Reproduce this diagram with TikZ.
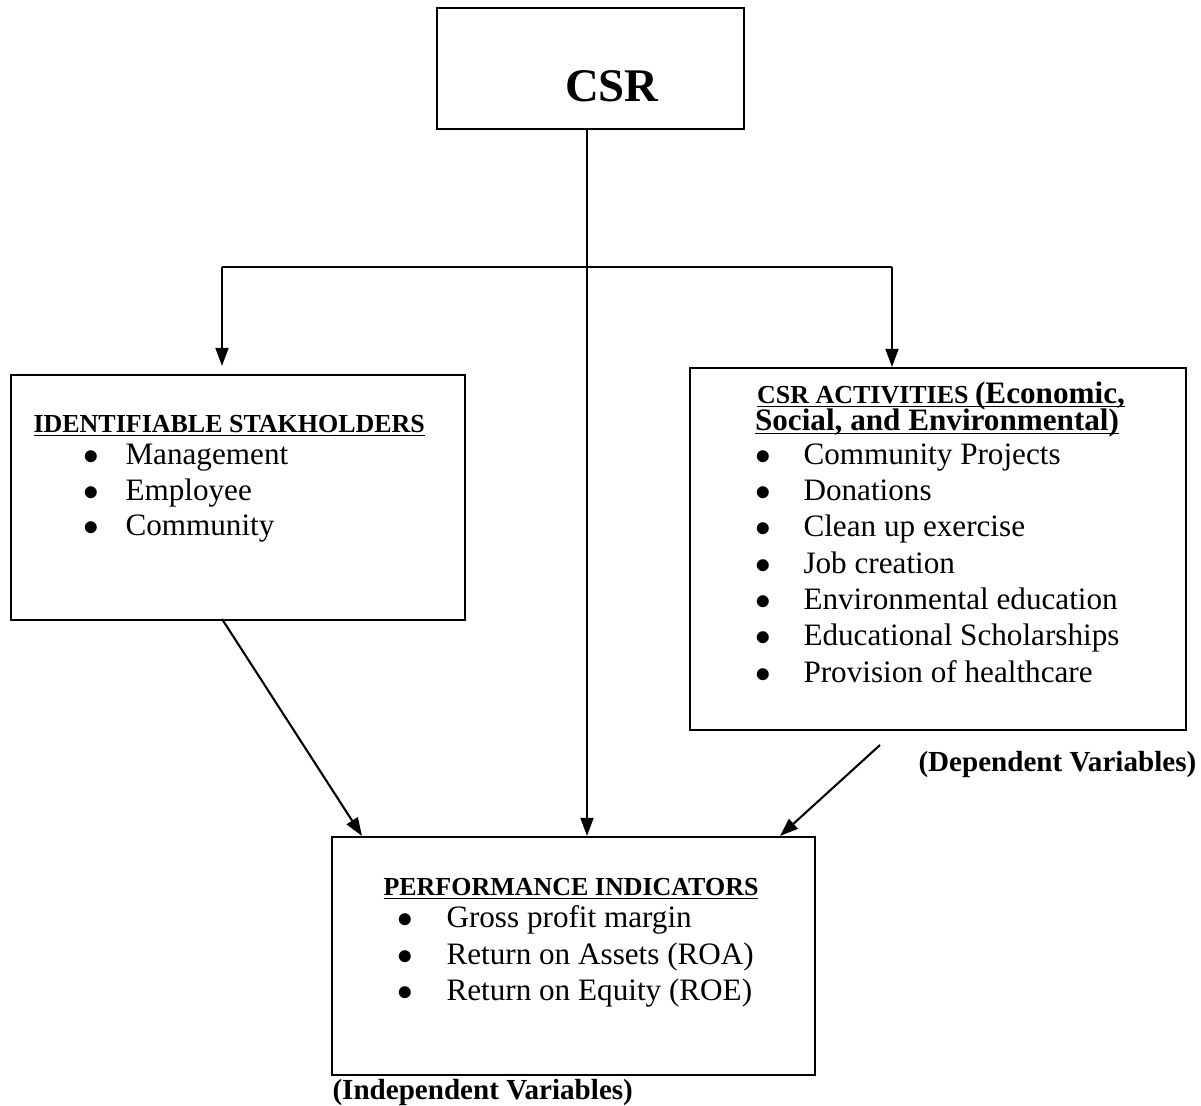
\documentclass[tikz,border=0pt]{standalone}
\usepackage{fontspec}
\setmainfont{Liberation Serif}
\usetikzlibrary{arrows.meta,positioning}

\newdimen\px
\px=0.385pt
\newsavebox{\ulbox}
\newcommand{\bul}[1]{\llap{$\bullet$\hspace{#1}}}
\newcommand{\uln}[1]{\sbox{\ulbox}{#1}\smash{\rlap{\rule[-1.6pt]{\wd\ulbox}{0.6pt}}}\usebox{\ulbox}}

\tikzset{
  box/.style={draw, line width=0.8pt, rectangle, inner sep=0pt},
  link/.style={line width=0.8pt},
  arr/.style={link, -{Triangle[width=5pt,length=7pt]}},
  head/.style={font=\fontsize{10}{12}\selectfont\bfseries, inner sep=0pt, text depth=0pt, anchor=base west},
  item/.style={font=\fontsize{12}{13.9}\selectfont, inner sep=0pt, anchor=base west},
  note/.style={font=\fontsize{11.2}{13}\selectfont\bfseries, inner sep=0pt, anchor=base west}
}

\begin{document}
\begin{tikzpicture}[x=0.385pt, y=-0.385pt]
  \useasboundingbox (0,0) rectangle (1201,1105);

  % boxes
  \node[box, minimum width=307\px, minimum height=121\px] (csr) at (590.5,68.5) {};
  \node[box, minimum width=454\px, minimum height=245\px] (stake) at (238,497.5) {};
  \node[box, minimum width=496\px, minimum height=362\px] (activ) at (938,549) {};
  \node[box, minimum width=483\px, minimum height=238\px] (perf) at (573.5,956) {};

  \node[font=\fontsize{18}{20}\selectfont\bfseries, inner sep=0pt, anchor=base] (csrtxt) at (612,101) {CSR};

  % stakeholders
  \node[head] (sh) at (33,432) {\uln{IDENTIFIABLE STAKHOLDERS}};
  \node[item] (s1) at (125,464) {\bul{10.1pt}Management};
  \node[item] (s2) at (125,500) {\bul{10.1pt}Employee};
  \node[item] (s3) at (125,535) {\bul{10.1pt}Community};

  % activities
  \node[head, anchor=base] (ah1) at (941,403) {\uln{CSR ACTIVITIES \fontsize{12}{14}\selectfont(Economic,}};
  \node[head, anchor=base, font=\fontsize{12}{14}\selectfont\bfseries] (ah2) at (937,430) {\uln{Social, and Environmental)}};
  \node[item] (a1) at (803,464) {\bul{12.4pt}Community Projects};
  \node[item] (a2) at (803,500) {\bul{12.4pt}Donations};
  \node[item] (a3) at (803,536) {\bul{12.4pt}Clean up exercise};
  \node[item] (a4) at (803,573) {\bul{12.4pt}Job creation};
  \node[item] (a5) at (803,609) {\bul{12.4pt}Environmental education};
  \node[item] (a6) at (803,645) {\bul{12.4pt}Educational Scholarships};
  \node[item] (a7) at (803,682) {\bul{12.4pt}Provision of healthcare};

  % performance
  \node[head] (ph) at (383,895) {\uln{PERFORMANCE INDICATORS}};
  \node[item] (p1) at (446,927) {\bul{12.8pt}Gross profit margin};
  \node[item] (p2) at (446,964) {\bul{12.8pt}Return on Assets (ROA)};
  \node[item] (p3) at (446,1000) {\bul{12.8pt}Return on Equity (ROE)};

  \node[note] (dep) at (918,771) {(Dependent Variables)};
  \node[note] (indep) at (332,1099) {(Independent Variables)};

  % connectors
  \coordinate (jL) at (222,267);
  \coordinate (jR) at (892,267);
  \coordinate (dL) at (222,619);
  \coordinate (eL) at (362,0);
  \coordinate (dR) at (880,745);
  \coordinate (eR) at (780,0);
  \draw[link] (jL) -- (jR);
  \draw[arr, shorten >=8\px] (jL) -- (jL |- stake.north);
  \draw[arr] (jR) -- (jR |- activ.north);
  \draw[arr] ([xshift=-3.5\px]csr.south) -- ([xshift=-3.5\px]csr.south |- perf.north);
  \draw[arr] (dL) -- (eL |- perf.north);
  \draw[arr] (dR) -- (eR |- perf.north);
\end{tikzpicture}
\end{document}
